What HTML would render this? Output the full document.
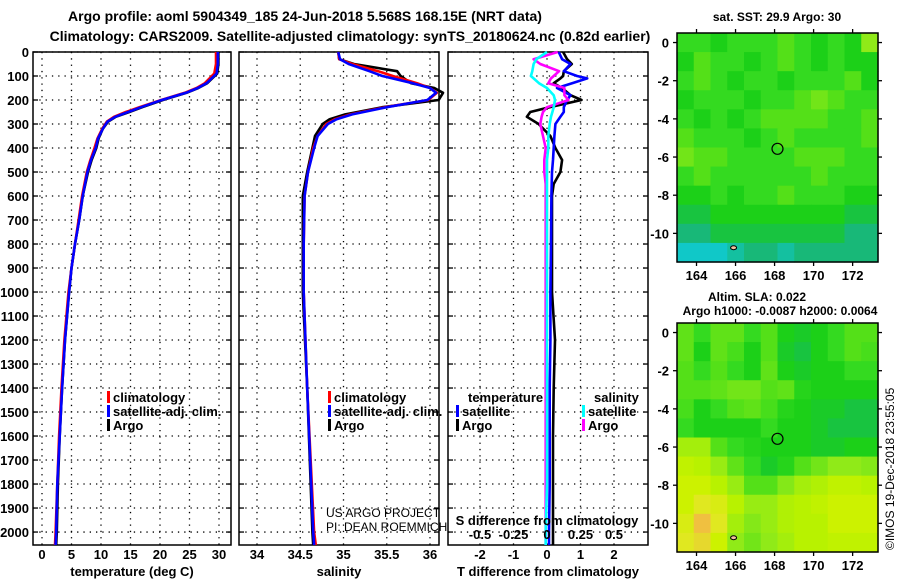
<!DOCTYPE html>
<html><head><meta charset="utf-8"><style>
body{margin:0;background:#fff;}
svg{display:block;font-family:"Liberation Sans",Arial,sans-serif;}
.b{font-weight:bold;}
</style></head><body>
<svg id="c" width="900" height="580" viewBox="0 0 900 580" xmlns="http://www.w3.org/2000/svg">
<text x="305" y="21" text-anchor="middle" class="b" font-size="14">Argo profile: aoml 5904349_185 24-Jun-2018 5.568S 168.15E (NRT data)</text>
<text x="350" y="41" text-anchor="middle" class="b" font-size="14">Climatology: CARS2009. Satellite-adjusted climatology: synTS_20180624.nc (0.82d earlier)</text>
<text x="777" y="21" text-anchor="middle" class="b" font-size="12">sat. SST: 29.9 Argo: 30</text>
<text x="757" y="301" text-anchor="middle" class="b" font-size="12">Altim. SLA: 0.022</text>
<text x="780" y="315" text-anchor="middle" class="b" font-size="12">Argo h1000: -0.0087 h2000: 0.0064</text>
<text transform="translate(894,550) rotate(-90)" font-size="12">©IMOS 19-Dec-2018 23:55:05</text>
<g id="g"></g>
</svg>
<script>
// ---- data ----
const tempP = [0,50,90,130,150,170,200,230,250,270,290,320,360,400,450,500,600,700,800,900,1000,1200,1400,1600,1800,2000,2054];
const tempArgo = [29.9,29.9,29.7,28.0,26.5,24.5,20.5,17.0,14.8,12.5,11.2,10.3,9.6,9.2,8.4,7.8,6.9,6.3,5.6,5.0,4.6,3.9,3.4,3.0,2.7,2.5,2.4];
const tempClim = [29.5,29.5,29.2,27.6,26.2,24.2,20.2,16.5,14.2,12.2,11.0,10.2,9.4,8.9,8.2,7.6,6.8,6.2,5.6,5.0,4.5,3.8,3.3,2.9,2.6,2.3,2.2];
const tempSat = [29.8,29.8,29.6,27.9,26.4,24.4,20.3,16.8,14.6,12.4,11.1,10.3,9.5,9.1,8.3,7.7,6.9,6.3,5.6,5.0,4.6,3.9,3.4,3.0,2.6,2.4,2.3];
const salP = [0,30,50,80,100,130,150,170,200,230,260,280,300,350,400,500,600,800,1000,1400,2000,2054];
const salArgo = [34.94,34.95,35.12,35.62,35.66,35.78,36.05,36.15,36.1,35.45,35.02,34.84,34.76,34.67,34.64,34.58,34.53,34.53,34.53,34.58,34.64,34.65];
const salClim = [34.94,34.95,35.1,35.4,35.57,35.85,36.0,36.08,35.98,35.48,35.08,34.9,34.8,34.7,34.65,34.59,34.55,34.54,34.54,34.58,34.66,34.68];
const salSat = [34.94,34.96,35.06,35.3,35.45,35.8,36.0,36.07,35.97,35.5,35.1,34.92,34.82,34.7,34.66,34.59,34.55,34.54,34.54,34.58,34.65,34.66];
const dP = [0,30,50,80,100,110,130,150,180,200,230,250,270,300,350,400,450,500,550,600,800,1000,1200,1400,1600,1800,2000,2054];
const dTArgo = [0.48,0.6,0.74,0.5,0.48,0.4,0.2,0.45,0.7,1.03,0.08,-0.5,-0.6,-0.25,0.1,0.25,0.45,0.4,0.2,0.15,0.15,0.15,0.24,0.2,0.18,0.18,0.18,0.18];
const dTSat = [0.35,0.45,0.7,0.5,0.9,1.2,0.75,0.3,0.7,0.6,0.5,0.5,0.4,0.25,0.22,0.2,0.18,0.15,0.14,0.13,0.12,0.1,0.1,0.08,0.08,0.08,0.06,0.06];
const dSArgo = [0.08,-0.1,-0.05,0.09,0.05,0.03,0.01,0.13,0.13,0.16,0.0,-0.03,-0.04,-0.05,-0.03,-0.01,-0.02,-0.02,-0.01,-0.01,-0.01,-0.01,-0.01,-0.01,-0.01,-0.01,-0.01,-0.01];
const dSSat = [0.0,-0.08,-0.1,-0.11,-0.12,-0.1,-0.06,0.0,0.05,0.06,0.05,0.04,0.03,0.02,0.01,0.01,0.0,0.0,0.0,0.0,0.0,0.0,0.0,0.0,0.0,0.0,-0.01,-0.01];
const pTicks = [0,100,200,300,400,500,600,700,800,900,1000,1100,1200,1300,1400,1500,1600,1700,1800,1900,2000];
const tTicks = [0,5,10,15,20,25,30];
const sTicks = [34,34.5,35,35.5,36];
const sTickLabels = ["34","34.5","35","35.5","36"];
const dTTicks = [-2,-1,0,1,2];
const dSTicks = [-0.5,-0.25,0,0.25,0.5];
const lonTicks = [164,166,168,170,172];
const latTicks = [0,-2,-4,-6,-8,-10];
const floatLon = 168.15, floatLat = -5.568;
const sstGrid = [
[.55,.55,.5,.55,.55,.55,.6,.55,.5,.55,.5,.7],
[.5,.6,.55,.55,.5,.55,.6,.55,.5,.55,.5,.5],
[.55,.6,.55,.5,.55,.55,.5,.55,.55,.55,.6,.5],
[.5,.55,.55,.55,.5,.55,.55,.6,.65,.6,.55,.55],
[.55,.5,.55,.5,.55,.6,.6,.6,.6,.55,.55,.6],
[.6,.55,.55,.55,.5,.55,.6,.55,.55,.55,.55,.6],
[.65,.6,.6,.55,.55,.55,.55,.6,.6,.6,.55,.55],
[.55,.6,.55,.55,.55,.55,.55,.55,.6,.55,.55,.55],
[.5,.5,.55,.5,.55,.55,.6,.55,.55,.55,.5,.5],
[.45,.45,.5,.5,.5,.5,.5,.5,.5,.5,.45,.45],
[.4,.4,.45,.45,.45,.45,.45,.45,.45,.45,.4,.4],
[.3,.3,.3,.35,.4,.4,.35,.4,.4,.4,.4,.4]];
const slaGrid = [
[.62,.55,.62,.62,.55,.6,.5,.48,.5,.55,.6,.6],
[.62,.5,.62,.58,.5,.6,.48,.45,.5,.55,.6,.58],
[.6,.55,.6,.55,.5,.62,.5,.48,.5,.5,.55,.55],
[.6,.6,.62,.65,.65,.6,.62,.52,.5,.5,.5,.5],
[.58,.5,.55,.6,.62,.58,.52,.5,.48,.48,.45,.45],
[.55,.5,.5,.5,.5,.55,.5,.5,.48,.45,.45,.45],
[.75,.75,.6,.55,.52,.5,.5,.5,.48,.48,.5,.5],
[.82,.8,.72,.62,.55,.48,.52,.6,.65,.7,.7,.68],
[.85,.85,.8,.72,.6,.6,.68,.75,.78,.82,.82,.8],
[.85,.9,.88,.8,.72,.72,.78,.8,.82,.85,.85,.85],
[.88,.95,.9,.75,.68,.72,.78,.8,.8,.85,.85,.85],
[.9,.92,.85,.7,.65,.7,.75,.8,.8,.82,.82,.82]];

// ---- helpers ----
const NS="http://www.w3.org/2000/svg";
const G=document.getElementById('g');
function mk(tag,attrs,parent){const e=document.createElementNS(NS,tag);for(const k in attrs)e.setAttribute(k,attrs[k]);(parent||G).appendChild(e);return e;}
function txt(x,y,s,size,anchor,bold,parent){const e=mk('text',{x:x,y:y,'font-size':size,'text-anchor':anchor||'start','font-weight':bold?'bold':'normal'},parent);e.textContent=s;return e;}
const TOP=52, BOT=545, PMAX=2054;
const yP=p=>TOP+(p/PMAX)*(BOT-TOP);
function lin(d0,d1,r0,r1){return v=>r0+(v-d0)/(d1-d0)*(r1-r0);}
const panels=[
 {x0:33,x1:231,sc:lin(0,30,42,219),ticks:tTicks,labels:tTicks.map(String),title:'temperature (deg C)',name:'temperature'},
 {x0:239,x1:439,sc:lin(34,36,257,430),ticks:sTicks,labels:sTickLabels,title:'salinity',name:'salinity'},
 {x0:448,x1:648,sc:lin(-2,2,480,614),ticks:dTTicks,labels:dTTicks.map(String),title:'T difference from climatology',name:'difference'}];
panels.forEach((pn,i)=>{
 const g=mk('g',{});
 
 
 pTicks.forEach(p=>{const y=yP(p);
  const l=mk('line',{x1:pn.x0,x2:pn.x1,y1:y,y2:y,stroke:'#000','stroke-width':1.3,'stroke-dasharray':'1.3 5'},g);
  
  
  mk('line',{x1:pn.x0,x2:pn.x0+5,y1:y,y2:y,stroke:'#000','stroke-width':1.3},g);
  mk('line',{x1:pn.x1-5,x2:pn.x1,y1:y,y2:y,stroke:'#000','stroke-width':1.3},g);
  if(i===0){const t=txt(pn.x0-4,y+5,String(p),13,'end',true,g);
   
   }
 });
 pn.ticks.forEach((v,k)=>{const x=pn.sc(v);
  const l=mk('line',{x1:x,x2:x,y1:TOP,y2:BOT,stroke:'#000','stroke-width':1.3,'stroke-dasharray':'1.3 5'},g);
  
  
  const t=txt(x,559,pn.labels[k],13,'middle',true,g);
  
  
 });
 const r=mk('rect',{x:pn.x0,y:TOP,width:pn.x1-pn.x0,height:BOT-TOP,fill:'none',stroke:'#000','stroke-width':1.5},g);
 
 
 const at=txt((pn.x0+pn.x1)/2,576,pn.title,13,'middle',true,g);
 
 
});
function line(ps,vs,sc,color,name){
 const d=ps.map((p,i)=>(i?'L':'M')+sc(vs[i]).toFixed(1)+' '+yP(p).toFixed(1)).join(' ');
 const e=mk('path',{d:d,fill:'none',stroke:color,'stroke-width':2.6,'stroke-linejoin':'round'});
 
 
}
const tS=panels[0].sc, sS=panels[1].sc, dTS=panels[2].sc, dSS=lin(-0.5,0.5,480,614);
line(tempP,tempArgo,tS,'#000','temperature-argo-line');
line(tempP,tempClim,tS,'#f00','temperature-climatology-line');
line(tempP,tempSat,tS,'#00f','temperature-satellite-line');
line(salP,salArgo,sS,'#000','salinity-argo-line');
line(salP,salClim,sS,'#f00','salinity-climatology-line');
line(salP,salSat,sS,'#00f','salinity-satellite-line');
line(dP,dTArgo,dTS,'#000','t-diff-argo-line');
line(dP,dTSat,dTS,'#00f','t-diff-satellite-line');
line(dP,dSArgo,dSS,'#f0f','s-diff-argo-line');
line(dP,dSSat,dSS,'#0ff','s-diff-satellite-line');
dSTicks.forEach(v=>{const t=txt(dSS(v),539,String(v),13,'middle',true);
 
 });
const sdt=txt(547,525,'S difference from climatology',13,'middle',true);


function legend(x,y,color,label,name){
 const g=mk('g',{});
 
 
 if(color)mk('rect',{x:x,y:y-11,width:3,height:12,fill:color},g);
 txt(x+6,y,label,13,'start',true,g);
}
legend(107,402,'#f00','climatology','legend-temp-climatology');
legend(107,416,'#00f','satellite-adj. clim.','legend-temp-satellite');
legend(107,430,'#000','Argo','legend-temp-argo');
legend(328,402,'#f00','climatology','legend-sal-climatology');
legend(328,416,'#00f','satellite-adj. clim.','legend-sal-satellite');
legend(328,430,'#000','Argo','legend-sal-argo');
legend(462,402,null,'temperature','legend-temperature-header');
legend(456,416,'#00f','satellite','legend-tdiff-satellite');
legend(456,430,'#000','Argo','legend-tdiff-argo');
legend(588,402,null,'salinity','legend-salinity-header');
legend(582,416,'#0ff','satellite','legend-sdiff-satellite');
legend(582,430,'#f0f','Argo','legend-sdiff-argo');
const us=txt(326,517,'US ARGO PROJECT',12,'start',false);


const pi=txt(326,531,'PI: DEAN ROEMMICH',12,'start',false);



// ---- maps ----
const stops=[[.3,[16,200,200]],[.4,[24,184,120]],[.45,[24,196,64]],[.5,[28,208,24]],[.55,[52,218,32]],[.6,[84,224,24]],[.7,[144,234,24]],[.8,[184,242,0]],[.85,[204,242,0]],[.9,[224,232,32]],[.95,[240,192,64]]];
function cmap(v){if(v<=stops[0][0])return stops[0][1];for(let i=1;i<stops.length;i++){if(v<=stops[i][0]){const a=stops[i-1],b=stops[i],t=(v-a[0])/(b[0]-a[0]);return a[1].map((c,k)=>Math.round(c+(b[1][k]-c)*t));}}return stops[stops.length-1][1];}
function map(y0,grid,name){
 const x0=677,x1=878,y1=y0+229;
 const lon=lin(163,173.3,x0,x1), lat=lin(0.5,-11.5,y0,y1);
 const g=mk('g',{});
 
 
 const R=grid.length,C=grid[0].length,cw=(x1-x0)/C,ch=(y1-y0)/R;
 grid.forEach((row,r)=>row.forEach((v,c)=>{
  const col=cmap(v);
  const cell=mk('rect',{x:(x0+c*cw).toFixed(2),y:(y0+r*ch).toFixed(2),width:(cw+0.6).toFixed(2),height:(ch+0.6).toFixed(2),fill:'rgb('+col.join(',')+')'},g);
  
  
 }));
 const f=mk('rect',{x:x0,y:y0,width:x1-x0,height:y1-y0,fill:'none',stroke:'#000','stroke-width':1.5},g);
 
 
 lonTicks.forEach(v=>{const x=lon(v);
  mk('line',{x1:x,x2:x,y1:y1,y2:y1+4,stroke:'#000','stroke-width':1.3},g);
  mk('line',{x1:x,x2:x,y1:y0,y2:y0-4,stroke:'#000','stroke-width':1.3},g);
  const t=txt(x,y1+18,String(v),13,'middle',true,g);
  
  });
 latTicks.forEach(v=>{const y=lat(v);
  mk('line',{x1:x0-4,x2:x0,y1:y,y2:y,stroke:'#000','stroke-width':1.3},g);
  mk('line',{x1:x1,x2:x1+4,y1:y,y2:y,stroke:'#000','stroke-width':1.3},g);
  const t=txt(x0-8,y+5,String(v),13,'end',true,g);
  
  });
 const m=mk('circle',{cx:lon(floatLon),cy:lat(floatLat),r:5.5,fill:'none',stroke:'#000','stroke-width':1.2},g);
 
 
 const isl=mk('ellipse',{cx:lon(165.9),cy:lat(-10.75),rx:3,ry:2,fill:'#f4c0a0',stroke:'#000','stroke-width':1},g);
 
 
}
map(33,sstGrid,'sst-map');
map(323,slaGrid,'sla-map');
</script>
</body></html>
